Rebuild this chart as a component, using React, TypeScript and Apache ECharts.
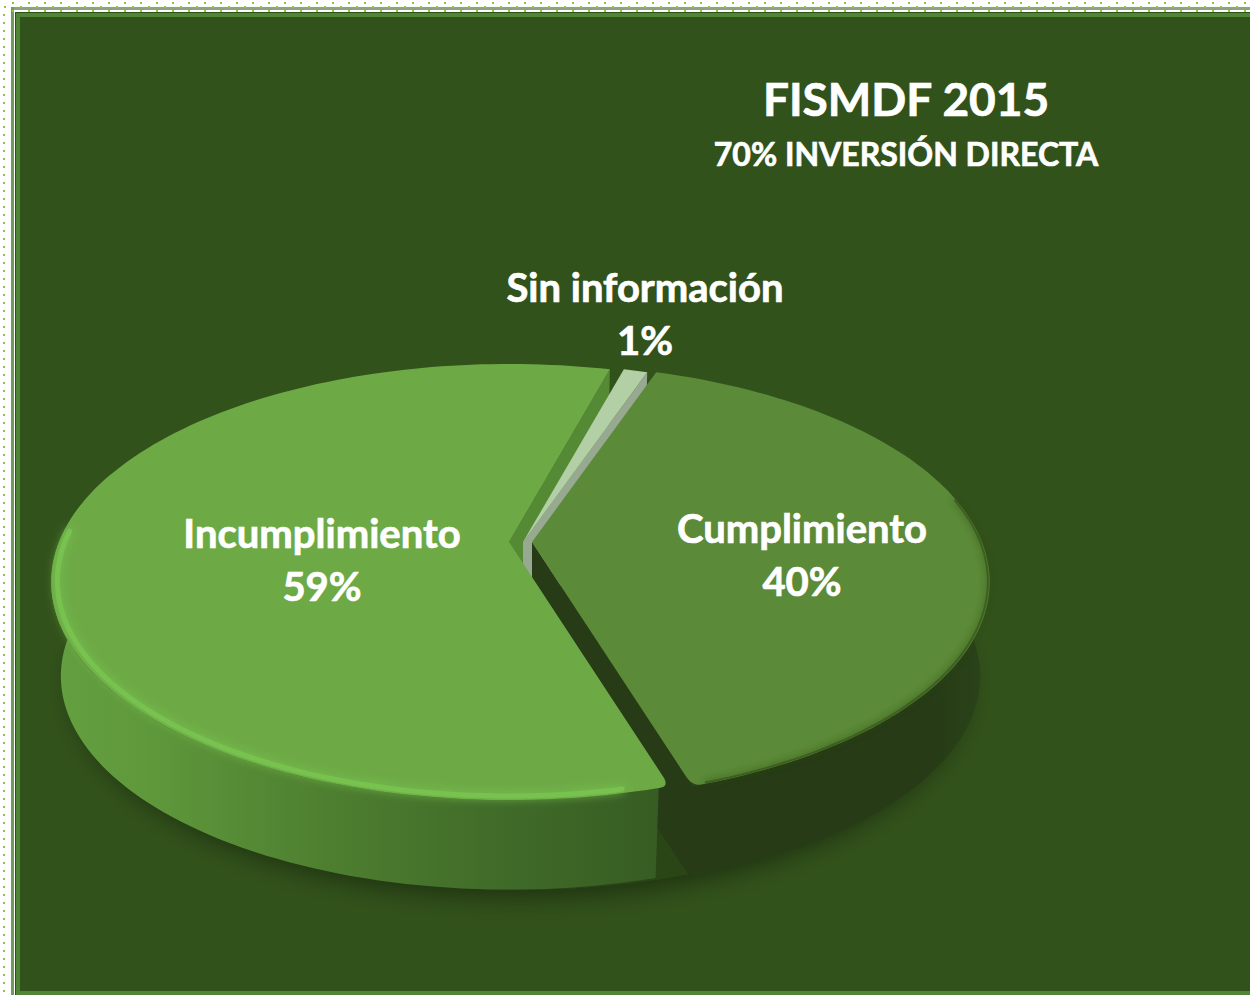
import React, { useEffect, useRef } from "react";
import * as echarts from "echarts";

const categories = ["Cumplimiento", "Incumplimiento", "Sin información"];
const values = [40, 59, 1];
const titleText = "FISMDF 2015";
const subtitleText = "70% INVERSIÓN DIRECTA";

const W = 1250;
const H = 995;
const FONT = "Lato, Carlito, 'Open Sans', sans-serif";
const START = 18.9;
const Y0 = 542;
const K = 0.1835;
const A = 210.7;
const B = 450;
const DEPTH = 95;
const BOTTOM_SCALE = 0.979;

const apexX = [532, 509, 523];
const labelPos = [
  [802, 554],
  [322, 559],
  [645, 313],
];

function pt(x0: number, deg: number, r = 1, bottom = false): number[] {
  const t = (deg * Math.PI) / 180;
  const u = r * Math.sin(t);
  const v = r * Math.cos(t);
  const w = 1 + K * v;
  let x = (B * u) / w;
  let y = (-A * v) / w;
  if (bottom) {
    x *= BOTTOM_SCALE;
    y = y * BOTTOM_SCALE + DEPTH;
  }
  return [x0 + x, Y0 + y];
}

function arc(x0: number, a1: number, a2: number, r = 1, bottom = false): number[][] {
  const n = Math.max(2, Math.ceil(Math.abs(a2 - a1) / 1.5));
  const out: number[][] = [];
  for (let i = 0; i <= n; i++) out.push(pt(x0, a1 + ((a2 - a1) * i) / n, r, bottom));
  return out;
}

// quadratic corner between two points, control point at the sharp corner
function corner(p0: number[], c: number[], p1: number[]): number[][] {
  const out: number[][] = [];
  for (let i = 0; i <= 10; i++) {
    const t = i / 10;
    const m = 1 - t;
    out.push([
      m * m * p0[0] + 2 * m * t * c[0] + t * t * p1[0],
      m * m * p0[1] + 2 * m * t * c[1] + t * t * p1[1],
    ]);
  }
  return out;
}

function along(p: number[], q: number[], d: number): number[] {
  const len = Math.hypot(q[0] - p[0], q[1] - p[1]);
  return [p[0] + ((q[0] - p[0]) * d) / len, p[1] + ((q[1] - p[1]) * d) / len];
}

function angles(i: number): number[] {
  const total = values.reduce((s, v) => s + v, 0);
  let a = START;
  for (let k = 0; k < i; k++) a += (values[k] / total) * 360;
  return [a, a + (values[i] / total) * 360];
}

function gradX(x1: number, x2: number, stops: [number, string][]) {
  return new echarts.graphic.LinearGradient(
    x1,
    0,
    x2,
    0,
    stops.map(([offset, color]) => ({ offset, color })),
    true
  );
}

function renderSlice(params: any, api: any) {
  const i = params.dataIndex;
  const [a1, a2] = angles(i);
  const x0 = apexX[i];
  const apex = [x0, Y0];
  const apexB = [x0, Y0 + DEPTH];
  const children: any[] = [];
  const total = values.reduce((s, v) => s + v, 0);
  const pct = Math.round((api.value(0) / total) * 100);

  if (i === 0) {
    // Cumplimiento: outer side, cut wall, top, soft rim
    children.push({
      type: "polygon",
      z2: 30,
      shape: { points: [...arc(x0, 70, a2), ...arc(x0, a2, 70, 1, true)] },
      style: {
        fill: gradX(690, 990, [
          [0, "#263b16"],
          [0.8, "#263b16"],
          [1, "#2b4419"],
        ]),
      },
    });
    children.push({
      type: "polygon",
      z2: 31,
      shape: { points: [apex, pt(x0, a2), pt(x0, a2, 1, true), apexB] },
      style: { fill: "#263b16" },
    });
    const c = pt(x0, a2);
    const rounded = corner(along(c, apex, 12), c, pt(x0, a2 - 1));
    children.push({
      type: "polygon",
      z2: 32,
      shape: { points: [apex, ...arc(x0, a1, a2 - 1), ...rounded.reverse()] },
      style: { fill: "#5b8a38" },
    });
    children.push({
      type: "polyline",
      z2: 33,
      shape: { points: arc(x0, 78, a2 - 1.5, 0.996) },
      style: {
        stroke: "#3c5f25",
        lineWidth: 2,
        fill: "none",
        shadowBlur: 7,
        shadowColor: "#2b4419",
      },
    });
  } else if (i === 1) {
    // Incumplimiento: back wall, outer side, top, bevel
    const end = a2 - 360;
    children.push({
      type: "polygon",
      z2: 10,
      shape: { points: [apex, pt(x0, end), pt(x0, end, 1, true), apexB] },
      style: { fill: "#558a35" },
    });
    children.push({
      type: "polygon",
      z2: 40,
      shape: { points: [...arc(x0, a1 + 1.2, 290), ...arc(x0, 290, a1 + 1.2, 1, true)] },
      style: {
        fill: gradX(50, 664, [
          [0, "#649f40"],
          [0.15, "#5f993c"],
          [0.45, "#4e7f30"],
          [0.75, "#3f6a28"],
          [1, "#375c23"],
        ]),
      },
    });
    const c = pt(x0, a1);
    const rounded = corner(along(c, apex, 12), c, pt(x0, a1 + 1));
    children.push({
      type: "polygon",
      z2: 41,
      shape: { points: [apex, ...rounded, ...arc(x0, a1 + 1, a2)] },
      style: { fill: "#6daa46" },
    });
    children.push({
      type: "polyline",
      z2: 42,
      shape: { points: arc(x0, a1 + 5, 273, 0.987) },
      style: {
        stroke: "#78c24f",
        lineWidth: 5,
        fill: "none",
        lineCap: "round",
        shadowBlur: 10,
        shadowColor: "#78c24f",
      },
    });
  } else {
    // Sin información: cut wall and top
    children.push({
      type: "polygon",
      z2: 20,
      shape: { points: [apex, pt(x0, a2), pt(x0, a2, 1, true), apexB] },
      style: { fill: "#98a992" },
    });
    children.push({
      type: "polygon",
      z2: 21,
      shape: { points: [apex, ...arc(x0, a1, a2)] },
      style: { fill: "#b3cfa6" },
    });
  }

  const [lx, ly] = labelPos[i];
  children.push({
    type: "text",
    z2: 60,
    style: {
      text: `${categories[i]}\n${pct}%`,
      x: lx,
      y: ly,
      align: "center",
      verticalAlign: "middle",
      fontFamily: FONT,
      fontWeight: "bold",
      fontSize: 40,
      lineHeight: 53,
      fill: "#ffffff",
      stroke: "#ffffff",
      lineWidth: 0.7,
    },
  });
  return { type: "group", children };
}

function renderShadow() {
  return {
    type: "polygon",
    z2: 1,
    shape: { points: arc(520, 90, 270, 1.0, true) },
    style: {
      fill: "#2a4517",
      shadowBlur: 26,
      shadowColor: "rgba(0,0,0,0.4)",
      shadowOffsetY: 8,
    },
  };
}

function frame(): any[] {
  const r = (x: number, y: number, w: number, h: number, fill: string) => ({
    type: "rect",
    silent: true,
    shape: { x, y, width: w, height: h },
    style: { fill },
  });
  const els: any[] = [
    r(11, 7, W - 11, 3, "#8aa57c"),
    r(11, 7, 3, H - 7, "#6f9a58"),
    r(15, 12, W - 15, 1, "#2e4f1a"),
    r(15, 12, 1, H - 12, "#2e4f1a"),
    r(16, 13, W - 16, H - 13, "#4f8534"),
    r(20, 17, W - 20, H - 21, "#32521b"),
  ];
  const dot = "#8cc63f";
  for (let x = 12; x < W; x += 16) {
    els.push(r(x, 2, 2, 2, dot));
    els.push(r(x, 10, 2, 2, dot));
    els.push(r(x - 8, 6, 2, 2, dot));
  }
  for (let y = 14; y < H; y += 8) els.push(r(3, y, 2, 2, dot));
  return els;
}

export default function App() {
  const ref = useRef<HTMLDivElement>(null);
  useEffect(() => {
    document.body.style.margin = "0";
    document.body.style.overflow = "hidden";
    const chart = echarts.init(ref.current!, undefined, { renderer: "svg" });
    const heavy = { textBorderColor: "#ffffff", textBorderWidth: 0.7 };
    chart.setOption({
      animation: false,
      backgroundColor: "#ffffff",
      title: [
        {
          text: titleText,
          left: 901,
          top: 70,
          textAlign: "center",
          textStyle: { fontFamily: FONT, fontWeight: "bold", fontSize: 46, color: "#ffffff", ...heavy },
        },
        {
          text: subtitleText,
          left: 901,
          top: 132,
          textAlign: "center",
          textStyle: { fontFamily: FONT, fontWeight: "bold", fontSize: 32, color: "#ffffff", ...heavy },
        },
      ],
      graphic: { elements: frame() },
      series: [
        {
          type: "custom",
          coordinateSystem: "none",
          silent: true,
          z: 2,
          data: [[0]],
          renderItem: renderShadow,
        },
        {
          type: "custom",
          coordinateSystem: "none",
          silent: true,
          z: 3,
          data: categories.map((name, i) => ({ name, value: [values[i], i] })),
          renderItem: renderSlice,
        },
      ],
    });
    return () => chart.dispose();
  }, []);
  return <div ref={ref} style={{ width: W, height: H }} />;
}
